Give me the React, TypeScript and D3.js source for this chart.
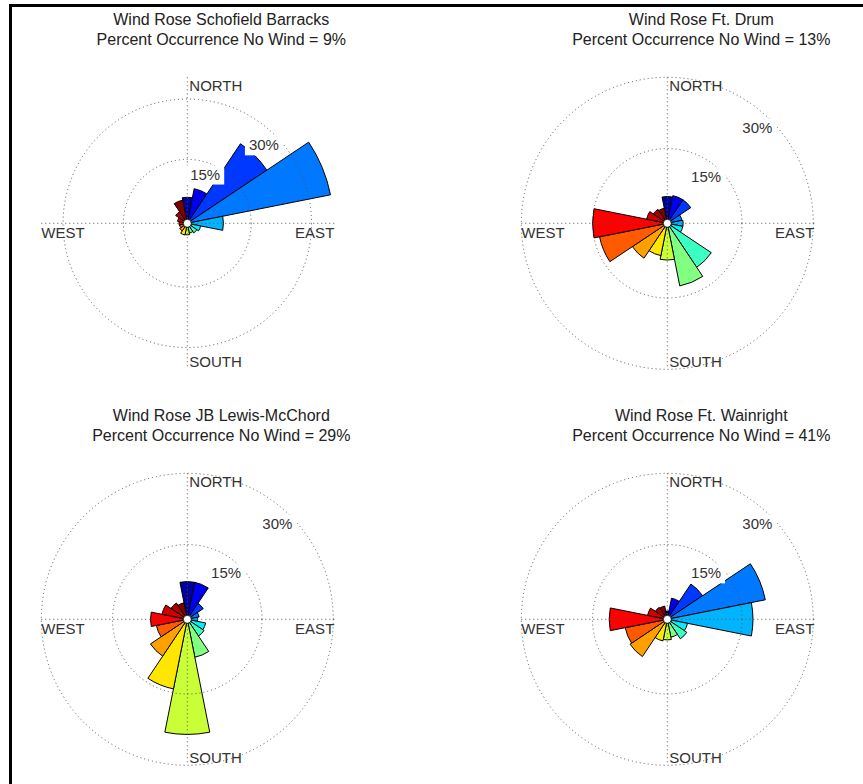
import * as d3 from 'd3';

// wind direction sectors, clockwise from north
const directions = ['N', 'NNE', 'NE', 'ENE', 'E', 'ESE', 'SE', 'SSE', 'S', 'SSW', 'SW', 'WSW', 'W', 'WNW', 'NW', 'NNW'];

const stations = ['Schofield Barracks', 'Ft. Drum', 'JB Lewis-McChord', 'Ft. Wainright'];
const noWindPercent = [9, 13, 29, 41];

// percent occurrence per direction
const schofieldFreq = [5.6, 7.9, 22.9, 35.4, 8.1, 2.5, 2.0, 1.6, 2.0, 2.1, 1.4, 1.1, 1.2, 1.6, 2.6, 5.0];
const drumFreq = [4.9, 5.2, 5.2, 2.4, 2.6, 2.6, 10.4, 12.7, 7.0, 6.2, 8.1, 13.8, 15.0, 3.7, 2.8, 2.5];
const lewisFreq = [7.2, 7.2, 3.3, 1.8, 1.4, 3.2, 3.5, 7.4, 23.5, 14.2, 8.6, 5.9, 7.0, 4.7, 3.4, 2.8];
const wainrightFreq = [1.0, 3.8, 8.2, 20.3, 17.3, 3.6, 4.2, 3.1, 3.6, 3.9, 8.7, 8.3, 11.5, 3.5, 2.3, 2.1];

const ringTicks = [15, 30];
const axisMax = [35.4, 30, 30, 30];
const compassLabels = ['NORTH', 'EAST', 'SOUTH', 'WEST'];

// jet-like colormap, one colour per direction
const dirColors = [
  '#00009f', '#0000f0', '#0038ff', '#0078ff', '#00b4ff', '#00f0ff', '#3cffc3', '#80ff80',
  '#c8ff37', '#ffe600', '#ffa000', '#ff5a00', '#ff0000', '#d00000', '#a80000', '#800000',
];

const W = 863;
const H = 784;
const R = 146; // axis radius in px
const HOLE = 3.5;
const FONT = "'Liberation Sans', Arial, Helvetica, sans-serif";
const rad = (deg: number) => (deg * Math.PI) / 180;

interface RoseProps {
  cx: number;
  cy: number;
  title: string;
  calm: number;
  freq: number[];
  rmax: number;
  labelAngles: number[];
}

const Rose = ({ cx, cy, title, calm, freq, rmax, labelAngles }: RoseProps) => {
  const r = d3.scaleLinear().domain([0, rmax]).range([HOLE, R]);
  const step = 360 / directions.length;
  const arc = d3.arc<number>()
    .innerRadius(4)
    .outerRadius(d => r(d))
    .startAngle((_, i) => rad(i * step - step / 2))
    .endAngle((_, i) => rad(i * step + step / 2));

  return (
    <g>
      <text x={cx + 34} y={cy - 198} textAnchor="middle" fontSize={16} fill="#222" fontFamily={FONT}>
        Wind Rose {title}
      </text>
      <text x={cx + 34} y={cy - 178} textAnchor="middle" fontSize={16} fill="#222" fontFamily={FONT}>
        Percent Occurrence No Wind = {calm}%
      </text>
      <g transform={`translate(${cx},${cy})`}>
        {freq.map((v, i) => (
          <path key={directions[i]} d={arc(v, i) || ''} fill={dirColors[i]} stroke="#000" strokeWidth={1} />
        ))}
        {/* dotted grid drawn over the bars */}
        <g fill="none" stroke="#555" strokeWidth={1} strokeDasharray="1 3">
          {ringTicks.map(t => (
            <circle key={t} r={r(t)} />
          ))}
          <line x1={0} x2={0} y1={-R} y2={R} />
          <line x1={-R} x2={R + 3} y1={0} y2={0} />
        </g>
        <circle r={4} fill="#fff" stroke="#000" strokeWidth={0.8} />
        {ringTicks.map((t, k) => {
          const a = rad(labelAngles[k]);
          const x = r(t) * Math.sin(a);
          const y = -r(t) * Math.cos(a);
          return (
            <g key={t}>
              <rect x={x - 34} y={y - 3} width={38} height={19} fill="#fff" />
              <text x={x} y={y + 11} textAnchor="end" fontSize={15} fill="#333" fontFamily={FONT}>
                {t}%
              </text>
            </g>
          );
        })}
        <g fontSize={15} fill="#333" fontFamily={FONT}>
          <text x={2} y={-132}>{compassLabels[0]}</text>
          <text x={R + 1} y={15} textAnchor="end">{compassLabels[1]}</text>
          <text x={2} y={144}>{compassLabels[2]}</text>
          <text x={-R} y={15}>{compassLabels[3]}</text>
        </g>
      </g>
    </g>
  );
};

export default function App() {
  const freqs = [schofieldFreq, drumFreq, lewisFreq, wainrightFreq];
  const centers = [
    [187.3, 223.3],
    [667.3, 223.3],
    [187.3, 619.3],
    [667.3, 619.3],
  ];
  const labelAngles = [[31, 47.5], [46, 46], [46, 46], [46, 46]];
  return (
    <svg width={W} height={H} style={{ position: 'absolute', left: 0, top: 0, background: '#fff' }}>
      <rect x={0} y={0} width={W} height={H} fill="#fff" />
      <rect x={9} y={4} width={W - 9} height={3} fill="#000" />
      <rect x={9} y={4} width={3} height={H - 4} fill="#000" />
      {stations.map((s, i) => (
        <Rose
          key={s}
          cx={centers[i][0]}
          cy={centers[i][1]}
          title={s}
          calm={noWindPercent[i]}
          freq={freqs[i]}
          rmax={axisMax[i]}
          labelAngles={labelAngles[i]}
        />
      ))}
    </svg>
  );
}
